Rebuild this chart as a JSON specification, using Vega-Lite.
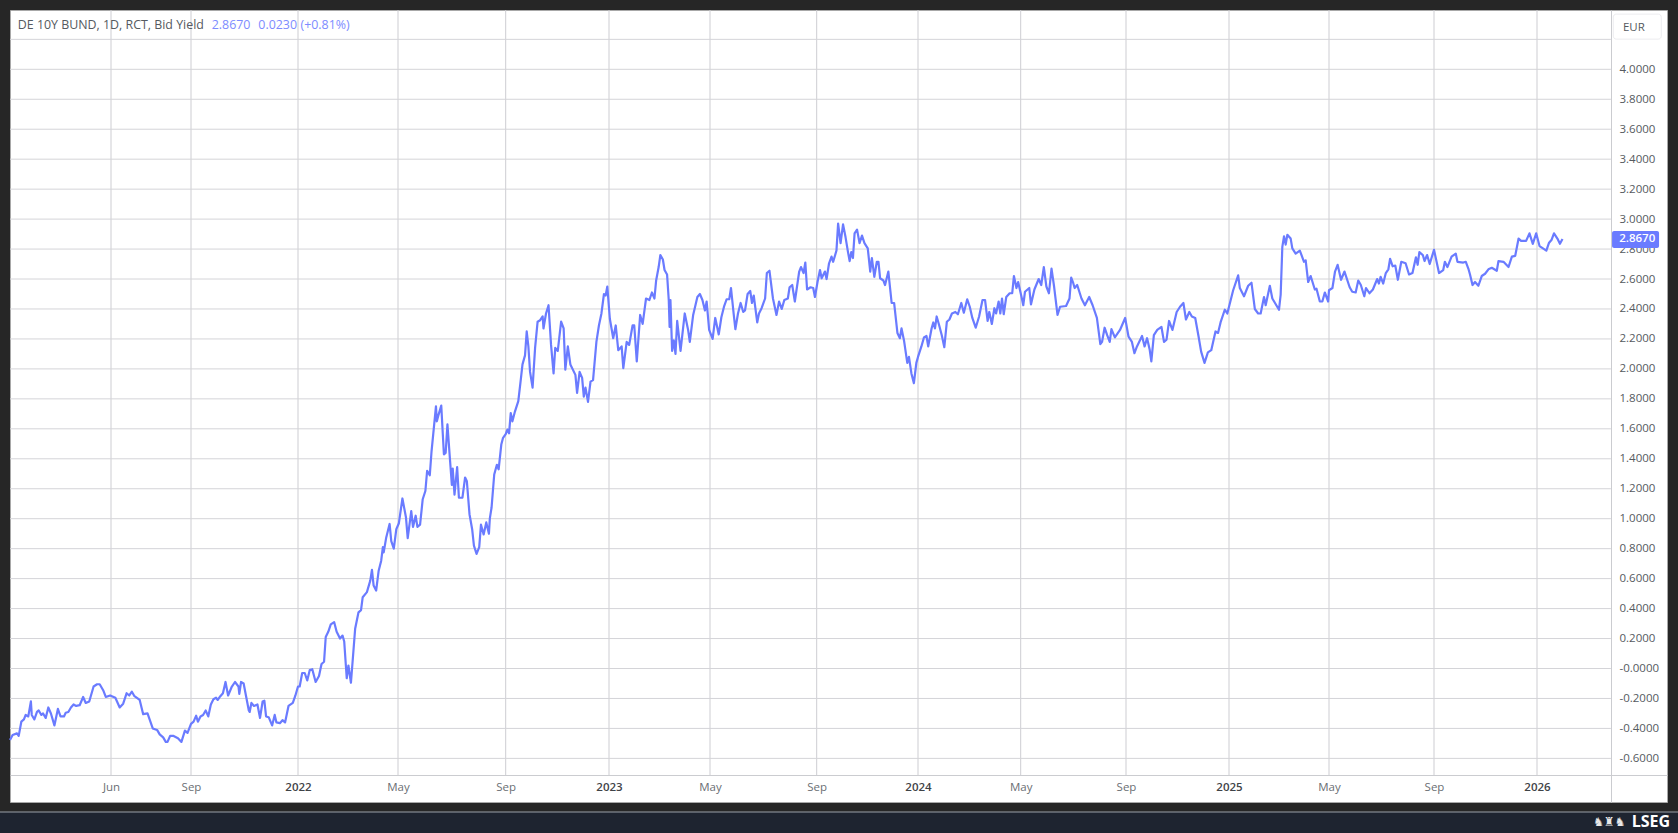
{
  "$schema": "https://vega.github.io/schema/vega-lite/v6.json",
  "width": 1657,
  "height": 792,
  "autosize": "none",
  "padding": {"left": 10, "top": 10, "right": 11, "bottom": 31},
  "background": "#262626",
  "view": {"fill": "#ffffff", "stroke": "#a8a8a8", "strokeWidth": 1},
  "config": {
    "font": "Open Sans",
    "axis": {
      "labelFont": "Open Sans",
      "labelFontSize": 11.5,
      "labelColor": "#555a60",
      "domainColor": "#cbccd0",
      "domainWidth": 1,
      "ticks": false,
      "grid": false,
      "title": null
    }
  },
  "datasets": {
    "months": [
      {"date": "2021-06-01"}, {"date": "2021-09-01"}, {"date": "2022-01-03"}, {"date": "2022-05-02"},
      {"date": "2022-09-01"}, {"date": "2023-01-02"}, {"date": "2023-05-02"}, {"date": "2023-09-01"},
      {"date": "2024-01-02"}, {"date": "2024-05-02"}, {"date": "2024-09-02"}, {"date": "2025-01-02"},
      {"date": "2025-05-02"}, {"date": "2025-09-01"}, {"date": "2026-01-02"}
    ],
    "levels": [
      {"level": -0.6}, {"level": -0.4}, {"level": -0.2}, {"level": 0}, {"level": 0.2}, {"level": 0.4},
      {"level": 0.6}, {"level": 0.8}, {"level": 1.0}, {"level": 1.2}, {"level": 1.4}, {"level": 1.6},
      {"level": 1.8}, {"level": 2.0}, {"level": 2.2}, {"level": 2.4}, {"level": 2.6}, {"level": 2.8},
      {"level": 3.0}, {"level": 3.2}, {"level": 3.4}, {"level": 3.6}, {"level": 3.8}, {"level": 4.0}, {"level": 4.2}
    ],
    "series": [
      {"date":"2021-02-05","yield":-0.477},{"date":"2021-02-08","yield":-0.444},{"date":"2021-02-13","yield":-0.433},{"date":"2021-02-15","yield":-0.45},
      {"date":"2021-02-18","yield":-0.355},{"date":"2021-02-21","yield":-0.34},{"date":"2021-02-23","yield":-0.31},{"date":"2021-02-26","yield":-0.32},
      {"date":"2021-03-01","yield":-0.22},{"date":"2021-03-02","yield":-0.31},{"date":"2021-03-05","yield":-0.34},{"date":"2021-03-08","yield":-0.29},
      {"date":"2021-03-10","yield":-0.28},{"date":"2021-03-13","yield":-0.31},{"date":"2021-03-15","yield":-0.30},{"date":"2021-03-18","yield":-0.33},
      {"date":"2021-03-21","yield":-0.26},{"date":"2021-03-24","yield":-0.30},{"date":"2021-03-28","yield":-0.38},{"date":"2021-04-01","yield":-0.27},
      {"date":"2021-04-04","yield":-0.32},{"date":"2021-04-08","yield":-0.32},{"date":"2021-04-10","yield":-0.295},{"date":"2021-04-13","yield":-0.29},
      {"date":"2021-04-16","yield":-0.26},{"date":"2021-04-19","yield":-0.24},{"date":"2021-04-22","yield":-0.25},{"date":"2021-04-26","yield":-0.245},
      {"date":"2021-04-30","yield":-0.19},{"date":"2021-05-03","yield":-0.23},{"date":"2021-05-07","yield":-0.22},{"date":"2021-05-12","yield":-0.12},
      {"date":"2021-05-16","yield":-0.105},{"date":"2021-05-19","yield":-0.105},{"date":"2021-05-23","yield":-0.145},{"date":"2021-05-26","yield":-0.19},
      {"date":"2021-05-31","yield":-0.18},{"date":"2021-06-06","yield":-0.195},{"date":"2021-06-11","yield":-0.26},{"date":"2021-06-15","yield":-0.235},
      {"date":"2021-06-19","yield":-0.165},{"date":"2021-06-22","yield":-0.18},{"date":"2021-06-25","yield":-0.155},{"date":"2021-06-28","yield":-0.185},
      {"date":"2021-07-04","yield":-0.21},{"date":"2021-07-08","yield":-0.305},{"date":"2021-07-13","yield":-0.30},{"date":"2021-07-19","yield":-0.40},
      {"date":"2021-07-24","yield":-0.41},{"date":"2021-07-27","yield":-0.44},{"date":"2021-07-31","yield":-0.46},{"date":"2021-08-03","yield":-0.49},
      {"date":"2021-08-05","yield":-0.49},{"date":"2021-08-08","yield":-0.45},{"date":"2021-08-12","yield":-0.45},{"date":"2021-08-17","yield":-0.465},
      {"date":"2021-08-21","yield":-0.49},{"date":"2021-08-25","yield":-0.415},{"date":"2021-08-28","yield":-0.43},{"date":"2021-09-01","yield":-0.37},
      {"date":"2021-09-04","yield":-0.355},{"date":"2021-09-07","yield":-0.315},{"date":"2021-09-09","yield":-0.355},{"date":"2021-09-12","yield":-0.32},
      {"date":"2021-09-15","yield":-0.31},{"date":"2021-09-18","yield":-0.28},{"date":"2021-09-21","yield":-0.32},{"date":"2021-09-24","yield":-0.24},
      {"date":"2021-09-27","yield":-0.205},{"date":"2021-09-30","yield":-0.195},{"date":"2021-10-02","yield":-0.21},{"date":"2021-10-05","yield":-0.185},
      {"date":"2021-10-08","yield":-0.165},{"date":"2021-10-11","yield":-0.09},{"date":"2021-10-14","yield":-0.18},{"date":"2021-10-18","yield":-0.125},
      {"date":"2021-10-22","yield":-0.09},{"date":"2021-10-26","yield":-0.12},{"date":"2021-10-27","yield":-0.17},{"date":"2021-10-29","yield":-0.09},
      {"date":"2021-11-01","yield":-0.10},{"date":"2021-11-04","yield":-0.19},{"date":"2021-11-07","yield":-0.28},{"date":"2021-11-08","yield":-0.29},
      {"date":"2021-11-10","yield":-0.23},{"date":"2021-11-13","yield":-0.25},{"date":"2021-11-17","yield":-0.24},{"date":"2021-11-20","yield":-0.33},
      {"date":"2021-11-23","yield":-0.22},{"date":"2021-11-25","yield":-0.215},{"date":"2021-11-27","yield":-0.32},{"date":"2021-11-30","yield":-0.325},
      {"date":"2021-12-04","yield":-0.38},{"date":"2021-12-07","yield":-0.31},{"date":"2021-12-09","yield":-0.36},{"date":"2021-12-13","yield":-0.365},
      {"date":"2021-12-16","yield":-0.345},{"date":"2021-12-19","yield":-0.36},{"date":"2021-12-23","yield":-0.25},{"date":"2021-12-28","yield":-0.23},
      {"date":"2021-12-31","yield":-0.18},{"date":"2022-01-03","yield":-0.12},{"date":"2022-01-05","yield":-0.12},{"date":"2022-01-08","yield":-0.03},
      {"date":"2022-01-11","yield":-0.03},{"date":"2022-01-14","yield":-0.08},{"date":"2022-01-17","yield":-0.01},{"date":"2022-01-20","yield":-0.005},
      {"date":"2022-01-24","yield":-0.09},{"date":"2022-01-28","yield":-0.05},{"date":"2022-01-31","yield":0.03},{"date":"2022-02-03","yield":0.045},
      {"date":"2022-02-05","yield":0.21},{"date":"2022-02-08","yield":0.245},{"date":"2022-02-11","yield":0.295},{"date":"2022-02-15","yield":0.31},
      {"date":"2022-02-18","yield":0.245},{"date":"2022-02-22","yield":0.20},{"date":"2022-02-25","yield":0.22},{"date":"2022-02-27","yield":0.18},
      {"date":"2022-03-02","yield":-0.065},{"date":"2022-03-04","yield":0.02},{"date":"2022-03-07","yield":-0.095},{"date":"2022-03-10","yield":0.12},
      {"date":"2022-03-12","yield":0.265},{"date":"2022-03-16","yield":0.375},{"date":"2022-03-19","yield":0.39},{"date":"2022-03-21","yield":0.476},
      {"date":"2022-03-26","yield":0.51},{"date":"2022-03-30","yield":0.587},{"date":"2022-04-01","yield":0.658},{"date":"2022-04-03","yield":0.554},
      {"date":"2022-04-06","yield":0.52},{"date":"2022-04-09","yield":0.653},{"date":"2022-04-12","yield":0.72},{"date":"2022-04-14","yield":0.81},
      {"date":"2022-04-15","yield":0.775},{"date":"2022-04-18","yield":0.875},{"date":"2022-04-20","yield":0.92},{"date":"2022-04-22","yield":0.965},
      {"date":"2022-04-24","yield":0.85},{"date":"2022-04-27","yield":0.80},{"date":"2022-04-30","yield":0.93},{"date":"2022-05-03","yield":0.97},
      {"date":"2022-05-07","yield":1.135},{"date":"2022-05-11","yield":1.01},{"date":"2022-05-13","yield":0.87},{"date":"2022-05-17","yield":1.05},
      {"date":"2022-05-19","yield":0.945},{"date":"2022-05-22","yield":1.02},{"date":"2022-05-24","yield":0.945},{"date":"2022-05-27","yield":0.96},
      {"date":"2022-05-30","yield":1.13},{"date":"2022-06-02","yield":1.185},{"date":"2022-06-04","yield":1.32},{"date":"2022-06-07","yield":1.29},
      {"date":"2022-06-09","yield":1.45},{"date":"2022-06-14","yield":1.75},{"date":"2022-06-15","yield":1.65},{"date":"2022-06-17","yield":1.695},
      {"date":"2022-06-20","yield":1.755},{"date":"2022-06-23","yield":1.43},{"date":"2022-06-25","yield":1.44},{"date":"2022-06-27","yield":1.63},
      {"date":"2022-06-30","yield":1.385},{"date":"2022-07-02","yield":1.225},{"date":"2022-07-03","yield":1.335},{"date":"2022-07-05","yield":1.16},
      {"date":"2022-07-08","yield":1.345},{"date":"2022-07-10","yield":1.14},{"date":"2022-07-14","yield":1.14},{"date":"2022-07-17","yield":1.275},
      {"date":"2022-07-19","yield":1.25},{"date":"2022-07-22","yield":1.03},{"date":"2022-07-25","yield":0.93},{"date":"2022-07-27","yield":0.82},
      {"date":"2022-07-30","yield":0.765},{"date":"2022-08-02","yield":0.81},{"date":"2022-08-04","yield":0.96},{"date":"2022-08-07","yield":0.895},
      {"date":"2022-08-10","yield":0.975},{"date":"2022-08-13","yield":0.90},{"date":"2022-08-14","yield":1.0},{"date":"2022-08-16","yield":1.075},
      {"date":"2022-08-19","yield":1.295},{"date":"2022-08-22","yield":1.36},{"date":"2022-08-24","yield":1.33},{"date":"2022-08-27","yield":1.495},
      {"date":"2022-08-29","yield":1.54},{"date":"2022-09-01","yield":1.565},{"date":"2022-09-03","yield":1.595},{"date":"2022-09-05","yield":1.57},
      {"date":"2022-09-07","yield":1.705},{"date":"2022-09-09","yield":1.65},{"date":"2022-09-12","yield":1.715},{"date":"2022-09-16","yield":1.785},
      {"date":"2022-09-19","yield":1.93},{"date":"2022-09-21","yield":2.03},{"date":"2022-09-24","yield":2.09},{"date":"2022-09-26","yield":2.25},
      {"date":"2022-09-28","yield":2.15},{"date":"2022-09-30","yield":1.98},{"date":"2022-10-03","yield":1.875},{"date":"2022-10-06","yield":2.14},
      {"date":"2022-10-09","yield":2.315},{"date":"2022-10-12","yield":2.325},{"date":"2022-10-15","yield":2.35},{"date":"2022-10-16","yield":2.27},
      {"date":"2022-10-19","yield":2.37},{"date":"2022-10-22","yield":2.425},{"date":"2022-10-25","yield":2.16},{"date":"2022-10-28","yield":1.97},
      {"date":"2022-10-30","yield":2.14},{"date":"2022-11-02","yield":2.12},{"date":"2022-11-06","yield":2.315},{"date":"2022-11-09","yield":2.27},
      {"date":"2022-11-11","yield":1.995},{"date":"2022-11-14","yield":2.15},{"date":"2022-11-17","yield":2.03},{"date":"2022-11-23","yield":1.96},
      {"date":"2022-11-25","yield":1.84},{"date":"2022-11-28","yield":1.98},{"date":"2022-12-01","yield":1.94},{"date":"2022-12-03","yield":1.815},
      {"date":"2022-12-05","yield":1.875},{"date":"2022-12-08","yield":1.78},{"date":"2022-12-11","yield":1.915},{"date":"2022-12-14","yield":1.925},
      {"date":"2022-12-18","yield":2.18},{"date":"2022-12-21","yield":2.29},{"date":"2022-12-24","yield":2.37},{"date":"2022-12-27","yield":2.50},
      {"date":"2022-12-29","yield":2.49},{"date":"2022-12-31","yield":2.55},{"date":"2023-01-03","yield":2.335},{"date":"2023-01-07","yield":2.205},
      {"date":"2023-01-10","yield":2.29},{"date":"2023-01-13","yield":2.125},{"date":"2023-01-17","yield":2.15},{"date":"2023-01-19","yield":2.005},
      {"date":"2023-01-23","yield":2.18},{"date":"2023-01-26","yield":2.16},{"date":"2023-01-30","yield":2.29},{"date":"2023-02-01","yield":2.29},
      {"date":"2023-02-04","yield":2.05},{"date":"2023-02-08","yield":2.36},{"date":"2023-02-11","yield":2.30},{"date":"2023-02-15","yield":2.47},
      {"date":"2023-02-19","yield":2.46},{"date":"2023-02-22","yield":2.51},{"date":"2023-02-25","yield":2.47},{"date":"2023-02-27","yield":2.59},
      {"date":"2023-03-02","yield":2.68},{"date":"2023-03-04","yield":2.76},{"date":"2023-03-07","yield":2.73},{"date":"2023-03-09","yield":2.66},
      {"date":"2023-03-12","yield":2.63},{"date":"2023-03-14","yield":2.46},{"date":"2023-03-15","yield":2.28},{"date":"2023-03-16","yield":2.46},
      {"date":"2023-03-18","yield":2.12},{"date":"2023-03-20","yield":2.19},{"date":"2023-03-22","yield":2.10},{"date":"2023-03-24","yield":2.32},
      {"date":"2023-03-28","yield":2.12},{"date":"2023-04-02","yield":2.37},{"date":"2023-04-06","yield":2.26},{"date":"2023-04-08","yield":2.18},
      {"date":"2023-04-12","yield":2.36},{"date":"2023-04-17","yield":2.48},{"date":"2023-04-20","yield":2.50},{"date":"2023-04-23","yield":2.46},
      {"date":"2023-04-26","yield":2.39},{"date":"2023-04-28","yield":2.45},{"date":"2023-05-01","yield":2.26},{"date":"2023-05-05","yield":2.20},
      {"date":"2023-05-08","yield":2.34},{"date":"2023-05-12","yield":2.23},{"date":"2023-05-15","yield":2.345},{"date":"2023-05-18","yield":2.415},
      {"date":"2023-05-21","yield":2.465},{"date":"2023-05-24","yield":2.465},{"date":"2023-05-26","yield":2.54},{"date":"2023-05-29","yield":2.37},
      {"date":"2023-05-31","yield":2.265},{"date":"2023-06-03","yield":2.37},{"date":"2023-06-06","yield":2.44},{"date":"2023-06-09","yield":2.38},
      {"date":"2023-06-11","yield":2.39},{"date":"2023-06-14","yield":2.50},{"date":"2023-06-17","yield":2.52},{"date":"2023-06-19","yield":2.44},
      {"date":"2023-06-21","yield":2.49},{"date":"2023-06-25","yield":2.31},{"date":"2023-06-27","yield":2.37},{"date":"2023-06-30","yield":2.405},
      {"date":"2023-07-04","yield":2.47},{"date":"2023-07-06","yield":2.64},{"date":"2023-07-09","yield":2.655},{"date":"2023-07-13","yield":2.47},
      {"date":"2023-07-17","yield":2.36},{"date":"2023-07-20","yield":2.45},{"date":"2023-07-23","yield":2.40},{"date":"2023-07-26","yield":2.46},
      {"date":"2023-07-30","yield":2.47},{"date":"2023-08-01","yield":2.545},{"date":"2023-08-04","yield":2.56},{"date":"2023-08-07","yield":2.45},
      {"date":"2023-08-12","yield":2.65},{"date":"2023-08-14","yield":2.68},{"date":"2023-08-17","yield":2.64},{"date":"2023-08-19","yield":2.71},
      {"date":"2023-08-21","yield":2.53},{"date":"2023-08-25","yield":2.545},{"date":"2023-08-28","yield":2.54},{"date":"2023-08-30","yield":2.48},
      {"date":"2023-09-02","yield":2.58},{"date":"2023-09-05","yield":2.66},{"date":"2023-09-07","yield":2.605},{"date":"2023-09-11","yield":2.65},
      {"date":"2023-09-13","yield":2.60},{"date":"2023-09-16","yield":2.705},{"date":"2023-09-19","yield":2.75},{"date":"2023-09-21","yield":2.715},
      {"date":"2023-09-25","yield":2.79},{"date":"2023-09-27","yield":2.97},{"date":"2023-09-30","yield":2.84},{"date":"2023-10-03","yield":2.965},
      {"date":"2023-10-06","yield":2.88},{"date":"2023-10-09","yield":2.78},{"date":"2023-10-11","yield":2.72},{"date":"2023-10-13","yield":2.78},
      {"date":"2023-10-15","yield":2.74},{"date":"2023-10-17","yield":2.905},{"date":"2023-10-20","yield":2.93},{"date":"2023-10-23","yield":2.84},
      {"date":"2023-10-26","yield":2.89},{"date":"2023-10-29","yield":2.84},{"date":"2023-11-02","yield":2.805},{"date":"2023-11-05","yield":2.65},
      {"date":"2023-11-07","yield":2.74},{"date":"2023-11-10","yield":2.615},{"date":"2023-11-13","yield":2.715},{"date":"2023-11-15","yield":2.715},
      {"date":"2023-11-17","yield":2.605},{"date":"2023-11-21","yield":2.59},{"date":"2023-11-23","yield":2.56},{"date":"2023-11-27","yield":2.65},
      {"date":"2023-12-01","yield":2.44},{"date":"2023-12-04","yield":2.44},{"date":"2023-12-08","yield":2.24},{"date":"2023-12-11","yield":2.205},
      {"date":"2023-12-13","yield":2.27},{"date":"2023-12-16","yield":2.19},{"date":"2023-12-20","yield":2.04},{"date":"2023-12-22","yield":2.08},
      {"date":"2023-12-25","yield":1.97},{"date":"2023-12-28","yield":1.905},{"date":"2023-12-31","yield":2.04},{"date":"2024-01-02","yield":2.08},
      {"date":"2024-01-06","yield":2.15},{"date":"2024-01-09","yield":2.21},{"date":"2024-01-12","yield":2.22},{"date":"2024-01-14","yield":2.15},
      {"date":"2024-01-18","yield":2.27},{"date":"2024-01-20","yield":2.31},{"date":"2024-01-22","yield":2.27},{"date":"2024-01-24","yield":2.35},
      {"date":"2024-01-27","yield":2.29},{"date":"2024-01-30","yield":2.225},{"date":"2024-02-02","yield":2.145},{"date":"2024-02-05","yield":2.315},
      {"date":"2024-02-08","yield":2.33},{"date":"2024-02-11","yield":2.37},{"date":"2024-02-15","yield":2.38},{"date":"2024-02-18","yield":2.365},
      {"date":"2024-02-22","yield":2.44},{"date":"2024-02-25","yield":2.375},{"date":"2024-02-29","yield":2.465},{"date":"2024-03-03","yield":2.415},
      {"date":"2024-03-06","yield":2.34},{"date":"2024-03-10","yield":2.275},{"date":"2024-03-14","yield":2.35},{"date":"2024-03-18","yield":2.46},
      {"date":"2024-03-21","yield":2.46},{"date":"2024-03-24","yield":2.32},{"date":"2024-03-26","yield":2.38},{"date":"2024-03-29","yield":2.30},
      {"date":"2024-04-01","yield":2.405},{"date":"2024-04-03","yield":2.37},{"date":"2024-04-06","yield":2.45},{"date":"2024-04-08","yield":2.37},
      {"date":"2024-04-10","yield":2.47},{"date":"2024-04-12","yield":2.365},{"date":"2024-04-15","yield":2.48},{"date":"2024-04-19","yield":2.505},
      {"date":"2024-04-22","yield":2.505},{"date":"2024-04-24","yield":2.62},{"date":"2024-04-27","yield":2.54},{"date":"2024-04-29","yield":2.58},
      {"date":"2024-05-03","yield":2.48},{"date":"2024-05-05","yield":2.425},{"date":"2024-05-07","yield":2.515},{"date":"2024-05-12","yield":2.54},
      {"date":"2024-05-14","yield":2.43},{"date":"2024-05-18","yield":2.53},{"date":"2024-05-23","yield":2.60},{"date":"2024-05-26","yield":2.56},
      {"date":"2024-05-29","yield":2.68},{"date":"2024-06-01","yield":2.55},{"date":"2024-06-04","yield":2.505},{"date":"2024-06-07","yield":2.67},
      {"date":"2024-06-10","yield":2.55},{"date":"2024-06-14","yield":2.36},{"date":"2024-06-17","yield":2.415},{"date":"2024-06-24","yield":2.42},
      {"date":"2024-06-28","yield":2.47},{"date":"2024-06-30","yield":2.61},{"date":"2024-07-02","yield":2.58},{"date":"2024-07-04","yield":2.54},
      {"date":"2024-07-07","yield":2.56},{"date":"2024-07-12","yield":2.47},{"date":"2024-07-16","yield":2.425},{"date":"2024-07-21","yield":2.48},
      {"date":"2024-07-25","yield":2.425},{"date":"2024-07-30","yield":2.34},{"date":"2024-08-03","yield":2.165},{"date":"2024-08-05","yield":2.18},
      {"date":"2024-08-08","yield":2.275},{"date":"2024-08-11","yield":2.225},{"date":"2024-08-14","yield":2.18},{"date":"2024-08-16","yield":2.265},
      {"date":"2024-08-20","yield":2.21},{"date":"2024-08-26","yield":2.26},{"date":"2024-09-01","yield":2.34},{"date":"2024-09-05","yield":2.215},
      {"date":"2024-09-09","yield":2.18},{"date":"2024-09-12","yield":2.105},{"date":"2024-09-15","yield":2.15},{"date":"2024-09-21","yield":2.22},
      {"date":"2024-09-24","yield":2.15},{"date":"2024-09-27","yield":2.205},{"date":"2024-09-30","yield":2.13},{"date":"2024-10-02","yield":2.05},
      {"date":"2024-10-05","yield":2.225},{"date":"2024-10-09","yield":2.26},{"date":"2024-10-14","yield":2.28},{"date":"2024-10-17","yield":2.18},
      {"date":"2024-10-20","yield":2.195},{"date":"2024-10-23","yield":2.32},{"date":"2024-10-27","yield":2.26},{"date":"2024-11-01","yield":2.38},
      {"date":"2024-11-05","yield":2.415},{"date":"2024-11-09","yield":2.44},{"date":"2024-11-12","yield":2.33},{"date":"2024-11-16","yield":2.38},
      {"date":"2024-11-19","yield":2.35},{"date":"2024-11-23","yield":2.34},{"date":"2024-11-27","yield":2.215},{"date":"2024-11-30","yield":2.115},
      {"date":"2024-12-04","yield":2.04},{"date":"2024-12-08","yield":2.11},{"date":"2024-12-12","yield":2.125},{"date":"2024-12-17","yield":2.25},
      {"date":"2024-12-20","yield":2.24},{"date":"2024-12-23","yield":2.31},{"date":"2024-12-28","yield":2.395},{"date":"2024-12-31","yield":2.37},
      {"date":"2025-01-07","yield":2.525},{"date":"2025-01-13","yield":2.625},{"date":"2025-01-15","yield":2.54},{"date":"2025-01-20","yield":2.485},
      {"date":"2025-01-25","yield":2.555},{"date":"2025-01-29","yield":2.575},{"date":"2025-02-02","yield":2.40},{"date":"2025-02-06","yield":2.37},
      {"date":"2025-02-09","yield":2.37},{"date":"2025-02-13","yield":2.48},{"date":"2025-02-15","yield":2.425},{"date":"2025-02-20","yield":2.555},
      {"date":"2025-02-23","yield":2.47},{"date":"2025-03-03","yield":2.395},{"date":"2025-03-05","yield":2.495},{"date":"2025-03-07","yield":2.815},
      {"date":"2025-03-09","yield":2.885},{"date":"2025-03-11","yield":2.83},{"date":"2025-03-13","yield":2.895},{"date":"2025-03-17","yield":2.87},
      {"date":"2025-03-19","yield":2.805},{"date":"2025-03-23","yield":2.77},{"date":"2025-03-28","yield":2.79},{"date":"2025-04-02","yield":2.715},
      {"date":"2025-04-04","yield":2.725},{"date":"2025-04-07","yield":2.58},{"date":"2025-04-10","yield":2.62},{"date":"2025-04-15","yield":2.53},
      {"date":"2025-04-17","yield":2.535},{"date":"2025-04-21","yield":2.45},{"date":"2025-04-24","yield":2.45},{"date":"2025-04-27","yield":2.51},
      {"date":"2025-05-01","yield":2.45},{"date":"2025-05-02","yield":2.525},{"date":"2025-05-06","yield":2.54},{"date":"2025-05-09","yield":2.65},
      {"date":"2025-05-12","yield":2.695},{"date":"2025-05-16","yield":2.595},{"date":"2025-05-20","yield":2.65},{"date":"2025-05-26","yield":2.545},
      {"date":"2025-05-29","yield":2.515},{"date":"2025-06-02","yield":2.51},{"date":"2025-06-05","yield":2.59},{"date":"2025-06-08","yield":2.56},
      {"date":"2025-06-12","yield":2.485},{"date":"2025-06-14","yield":2.54},{"date":"2025-06-18","yield":2.505},{"date":"2025-06-22","yield":2.53},
      {"date":"2025-06-27","yield":2.60},{"date":"2025-06-29","yield":2.57},{"date":"2025-07-01","yield":2.615},{"date":"2025-07-04","yield":2.57},
      {"date":"2025-07-07","yield":2.64},{"date":"2025-07-10","yield":2.665},{"date":"2025-07-12","yield":2.735},{"date":"2025-07-15","yield":2.685},
      {"date":"2025-07-18","yield":2.69},{"date":"2025-07-21","yield":2.595},{"date":"2025-07-25","yield":2.715},{"date":"2025-07-30","yield":2.705},
      {"date":"2025-08-03","yield":2.63},{"date":"2025-08-07","yield":2.64},{"date":"2025-08-11","yield":2.745},{"date":"2025-08-13","yield":2.695},
      {"date":"2025-08-15","yield":2.78},{"date":"2025-08-19","yield":2.76},{"date":"2025-08-21","yield":2.72},{"date":"2025-08-24","yield":2.76},
      {"date":"2025-08-27","yield":2.70},{"date":"2025-09-01","yield":2.795},{"date":"2025-09-07","yield":2.64},{"date":"2025-09-12","yield":2.66},
      {"date":"2025-09-14","yield":2.715},{"date":"2025-09-17","yield":2.68},{"date":"2025-09-22","yield":2.75},{"date":"2025-09-27","yield":2.77},
      {"date":"2025-09-29","yield":2.715},{"date":"2025-10-06","yield":2.71},{"date":"2025-10-09","yield":2.715},{"date":"2025-10-12","yield":2.67},
      {"date":"2025-10-14","yield":2.63},{"date":"2025-10-17","yield":2.56},{"date":"2025-10-20","yield":2.58},{"date":"2025-10-24","yield":2.555},
      {"date":"2025-10-28","yield":2.62},{"date":"2025-11-01","yield":2.635},{"date":"2025-11-05","yield":2.665},{"date":"2025-11-09","yield":2.675},
      {"date":"2025-11-15","yield":2.655},{"date":"2025-11-17","yield":2.72},{"date":"2025-11-23","yield":2.715},{"date":"2025-11-29","yield":2.68},
      {"date":"2025-12-03","yield":2.75},{"date":"2025-12-07","yield":2.755},{"date":"2025-12-11","yield":2.87},{"date":"2025-12-14","yield":2.855},
      {"date":"2025-12-20","yield":2.855},{"date":"2025-12-24","yield":2.905},{"date":"2025-12-28","yield":2.835},{"date":"2026-01-01","yield":2.905},
      {"date":"2026-01-05","yield":2.82},{"date":"2026-01-09","yield":2.805},{"date":"2026-01-13","yield":2.79},{"date":"2026-01-16","yield":2.84},
      {"date":"2026-01-19","yield":2.86},{"date":"2026-01-22","yield":2.905},{"date":"2026-01-26","yield":2.87},{"date":"2026-01-29","yield":2.835},
      {"date":"2026-02-01","yield":2.867}
    ]
  },
  "layer": [
    {
      "data": {"name": "months"},
      "mark": {"type": "rule", "stroke": "#cdcdd2", "strokeWidth": 1},
      "encoding": {
        "x": {
          "field": "date",
          "type": "temporal",
          "scale": {
            "type": "utc",
            "domain": {"expr": "[toDate('2021-02-05'), toDate('2021-06-01'), toDate('2021-09-01'), toDate('2022-01-03'), toDate('2022-05-02'), toDate('2022-09-01'), toDate('2023-01-02'), toDate('2023-05-02'), toDate('2023-09-01'), toDate('2024-01-02'), toDate('2024-05-02'), toDate('2024-09-02'), toDate('2025-01-02'), toDate('2025-05-02'), toDate('2025-09-01'), toDate('2026-01-02'), toDate('2026-06-04')]"},
            "range": [0, 101, 181, 288, 388, 495.7, 599, 700, 806.7, 908, 1010.7, 1116, 1219, 1319, 1424, 1527, 1657]
          },
          "axis": {
            "orient": "bottom",
            "offset": -27,
            "labelPadding": 6,
            "labelOverlap": false,
            "labelFlush": false,
            "tickCount": 30,
            "values": ["2021-06-01", "2021-09-01", "2022-01-03", "2022-05-02", "2022-09-01", "2023-01-02", "2023-05-02", "2023-09-01", "2024-01-02", "2024-05-02", "2024-09-02", "2025-01-02", "2025-05-02", "2025-09-01", "2026-01-02"],
            "labelExpr": "utcmonth(datum.value) == 0 ? utcFormat(datum.value, '%Y') : utcFormat(datum.value, '%b')",
            "labelFontWeight": {"condition": {"test": "utcmonth(datum.value) == 0", "value": 600}, "value": 400},
            "labelColor": {"condition": {"test": "utcmonth(datum.value) == 0", "value": "#3f4347"}, "value": "#6a6e73"}
          }
        },
        "y": {
          "datum": 4.3959,
          "type": "quantitative",
          "scale": {"domain": [-0.8912, 4.3959], "nice": false, "zero": false},
          "axis": {
            "orient": "right",
            "offset": -56,
            "labelPadding": 8,
            "labelOverlap": false,
            "labelFlush": false,
            "tickCount": 30,
            "values": [-0.6, -0.4, -0.2, -0.00001, 0.2, 0.4, 0.6, 0.8, 1.0, 1.2, 1.4, 1.6, 1.8, 2.0, 2.2, 2.4, 2.6, 2.8, 3.0, 3.2, 3.4, 3.6, 3.8, 4.0],
            "labelExpr": "datum.value == -0.00001 ? '-0.0000' : replace(format(datum.value, '.4f'), '−', '-')"
          }
        },
        "y2": {"datum": -0.711}
      }
    },
    {
      "data": {"name": "levels"},
      "mark": {"type": "rule", "stroke": "#d4d4d8", "strokeWidth": 1},
      "encoding": {
        "x": {"datum": {"year": 2021, "month": "feb", "date": 5, "utc": true}, "type": "temporal"},
        "x2": {"datum": {"year": 2026, "month": "mar", "date": 30, "utc": true}},
        "y": {"field": "level", "type": "quantitative"}
      }
    },
    {
      "data": {"name": "series"},
      "mark": {"type": "line", "stroke": "#6a7bff", "strokeWidth": 2.2, "strokeJoin": "round"},
      "encoding": {
        "x": {"field": "date", "type": "temporal"},
        "y": {"field": "yield", "type": "quantitative"}
      }
    },
    {
      "data": {"values": [{"label": "DE 10Y BUND, 1D, RCT, Bid Yield"}]},
      "mark": {"type": "text", "align": "left", "baseline": "middle", "font": "Open Sans", "fontSize": 12.4, "color": "#555a60"},
      "encoding": {
        "x": {"datum": {"year": 2021, "month": "feb", "date": 14, "utc": true}, "type": "temporal"},
        "y": {"datum": 4.296, "type": "quantitative"},
        "text": {"field": "label"}
      }
    },
    {
      "data": {"values": [{"label": "2.8670"}]},
      "mark": {"type": "text", "align": "left", "baseline": "middle", "font": "Open Sans", "fontSize": 12.4, "color": "#7d8cff"},
      "encoding": {
        "x": {"datum": {"year": 2021, "month": "sep", "date": 25, "utc": true}, "type": "temporal"},
        "y": {"datum": 4.296, "type": "quantitative"},
        "text": {"field": "label"}
      }
    },
    {
      "data": {"values": [{"label": "0.0230"}]},
      "mark": {"type": "text", "align": "left", "baseline": "middle", "font": "Open Sans", "fontSize": 12.4, "color": "#7d8cff"},
      "encoding": {
        "x": {"datum": {"year": 2021, "month": "nov", "date": 18, "utc": true}, "type": "temporal"},
        "y": {"datum": 4.296, "type": "quantitative"},
        "text": {"field": "label"}
      }
    },
    {
      "data": {"values": [{"label": "(+0.81%)"}]},
      "mark": {"type": "text", "align": "left", "baseline": "middle", "font": "Open Sans", "fontSize": 12.4, "color": "#7d8cff"},
      "encoding": {
        "x": {"datum": {"year": 2022, "month": "jan", "date": 6, "utc": true}, "type": "temporal"},
        "y": {"datum": 4.296, "type": "quantitative"},
        "text": {"field": "label"}
      }
    },
    {
      "data": {"values": [{"label": "EUR"}]},
      "mark": {"type": "rect", "width": 48, "height": 25, "fill": "#ffffff", "stroke": "#ececef", "cornerRadius": 3},
      "encoding": {
        "x": {"datum": {"year": 2026, "month": "apr", "date": 30, "utc": true}, "type": "temporal"},
        "y": {"datum": 4.285, "type": "quantitative"}
      }
    },
    {
      "data": {"values": [{"label": "EUR"}]},
      "mark": {"type": "text", "align": "center", "baseline": "middle", "font": "Open Sans", "fontSize": 11.5, "color": "#555a60"},
      "encoding": {
        "x": {"datum": {"year": 2026, "month": "apr", "date": 26, "utc": true}, "type": "temporal"},
        "y": {"datum": 4.274, "type": "quantitative"},
        "text": {"field": "label"}
      }
    },
    {
      "data": {"values": [{"label": "2.8670"}]},
      "mark": {"type": "rect", "width": 47, "height": 17, "fill": "#6a7bff", "cornerRadius": 2},
      "encoding": {
        "x": {"datum": {"year": 2026, "month": "apr", "date": 28, "utc": true}, "type": "temporal"},
        "y": {"datum": 2.864, "type": "quantitative"}
      }
    },
    {
      "data": {"values": [{"label": "2.8670"}]},
      "mark": {"type": "text", "align": "center", "baseline": "middle", "font": "Open Sans", "fontSize": 11.5, "fontWeight": 600, "color": "#ffffff"},
      "encoding": {
        "x": {"datum": {"year": 2026, "month": "apr", "date": 30, "utc": true}, "type": "temporal"},
        "y": {"datum": 2.864, "type": "quantitative"},
        "text": {"field": "label"}
      }
    },
    {
      "data": {"values": [{"label": "footer"}]},
      "mark": {"type": "rect", "width": 1700, "height": 21, "fill": "#1e2430"},
      "encoding": {
        "x": {"datum": {"year": 2023, "month": "sep", "date": 20, "utc": true}, "type": "temporal"},
        "y": {"datum": -1.028, "type": "quantitative"}
      }
    },
    {
      "data": {"values": [{"label": "footer"}]},
      "mark": {"type": "rect", "width": 1700, "height": 1, "fill": "#9aa0a8"},
      "encoding": {
        "x": {"datum": {"year": 2023, "month": "sep", "date": 20, "utc": true}, "type": "temporal"},
        "y": {"datum": -0.958, "type": "quantitative"}
      }
    },
    {
      "data": {"values": [{"label": "♞♜♞"}]},
      "mark": {"type": "text", "align": "center", "baseline": "middle", "font": "DejaVu Sans", "fontSize": 12, "color": "#e8e8e8"},
      "encoding": {
        "x": {"datum": {"year": 2026, "month": "mar", "date": 28, "utc": true}, "type": "temporal"},
        "y": {"datum": -1.025, "type": "quantitative"},
        "text": {"field": "label"}
      }
    },
    {
      "data": {"values": [{"label": "LSEG"}]},
      "mark": {"type": "text", "align": "center", "baseline": "middle", "font": "Open Sans", "fontSize": 16, "fontWeight": 700, "color": "#ffffff"},
      "encoding": {
        "x": {"datum": {"year": 2026, "month": "may", "date": 16, "utc": true}, "type": "temporal"},
        "y": {"datum": -1.025, "type": "quantitative"},
        "text": {"field": "label"}
      }
    }
  ]
}
